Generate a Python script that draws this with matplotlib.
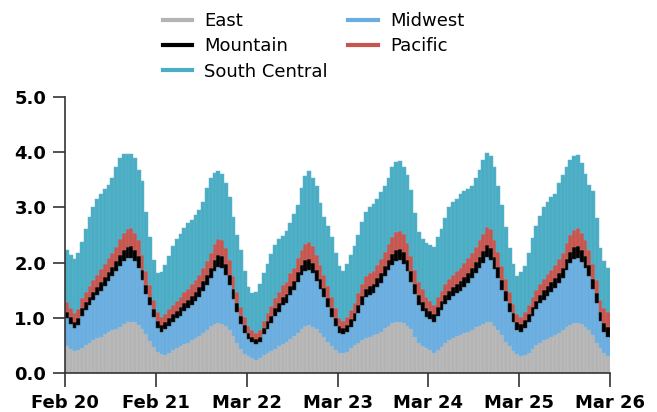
import numpy as np
import matplotlib
matplotlib.use("Agg")
import matplotlib.pyplot as plt
from matplotlib.lines import Line2D

# tick labels, one per day boundary
day_labels = ["Feb 20", "Feb 21", "Mar 22", "Mar 23", "Mar 24", "Mar 25", "Mar 26"]
hours_per_day = 24

# hourly values, one row per day
east = [
    0.48, 0.44, 0.39, 0.41, 0.45, 0.50, 0.55, 0.59, 0.63, 0.66, 0.70, 0.74, 0.77, 0.80, 0.84, 0.88, 0.92, 0.93, 0.92, 0.87, 0.80, 0.70, 0.58, 0.47,
    0.38, 0.34, 0.33, 0.37, 0.41, 0.45, 0.49, 0.52, 0.55, 0.59, 0.63, 0.67, 0.72, 0.78, 0.85, 0.89, 0.90, 0.89, 0.85, 0.78, 0.67, 0.55, 0.43, 0.35,
    0.31, 0.27, 0.24, 0.28, 0.32, 0.36, 0.40, 0.44, 0.48, 0.52, 0.56, 0.61, 0.67, 0.73, 0.79, 0.85, 0.87, 0.84, 0.79, 0.73, 0.65, 0.57, 0.49, 0.42,
    0.37, 0.36, 0.38, 0.45, 0.50, 0.55, 0.60, 0.63, 0.66, 0.68, 0.71, 0.74, 0.82, 0.86, 0.90, 0.93, 0.93, 0.91, 0.85, 0.79, 0.66, 0.55, 0.49, 0.45,
    0.41, 0.37, 0.42, 0.47, 0.55, 0.60, 0.64, 0.67, 0.69, 0.72, 0.74, 0.78, 0.83, 0.86, 0.89, 0.93, 0.92, 0.86, 0.78, 0.68, 0.57, 0.48, 0.40, 0.35,
    0.30, 0.32, 0.37, 0.44, 0.51, 0.55, 0.59, 0.62, 0.65, 0.68, 0.72, 0.77, 0.83, 0.87, 0.90, 0.91, 0.88, 0.84, 0.78, 0.68, 0.55, 0.45, 0.37, 0.30,
]

midwest = [
    0.51, 0.45, 0.42, 0.46, 0.59, 0.64, 0.69, 0.73, 0.78, 0.83, 0.87, 0.92, 0.98, 1.04, 1.10, 1.15, 1.16, 1.15, 1.10, 1.04, 0.88, 0.73, 0.65, 0.54,
    0.44, 0.40, 0.46, 0.49, 0.51, 0.54, 0.55, 0.60, 0.63, 0.65, 0.67, 0.71, 0.77, 0.81, 0.87, 0.96, 1.02, 1.01, 0.93, 0.81, 0.67, 0.56, 0.45, 0.38,
    0.31, 0.29, 0.28, 0.28, 0.38, 0.44, 0.50, 0.59, 0.63, 0.71, 0.71, 0.81, 0.83, 0.92, 0.98, 1.00, 1.00, 0.97, 0.88, 0.79, 0.72, 0.63, 0.53, 0.44,
    0.36, 0.34, 0.36, 0.38, 0.44, 0.54, 0.64, 0.74, 0.76, 0.77, 0.84, 0.89, 0.93, 1.00, 1.06, 1.09, 1.11, 1.07, 1.00, 0.86, 0.77, 0.69, 0.64, 0.56,
    0.57, 0.55, 0.62, 0.67, 0.70, 0.72, 0.75, 0.77, 0.80, 0.84, 0.89, 0.94, 0.98, 1.04, 1.11, 1.17, 1.13, 1.03, 0.94, 0.82, 0.74, 0.62, 0.52, 0.42,
    0.44, 0.50, 0.55, 0.60, 0.64, 0.71, 0.74, 0.78, 0.82, 0.86, 0.91, 0.95, 1.04, 1.13, 1.17, 1.17, 1.13, 1.06, 0.97, 0.84, 0.71, 0.49, 0.37, 0.36,
]

mountain = [
    0.12, 0.12, 0.12, 0.12, 0.13, 0.14, 0.14, 0.15, 0.15, 0.16, 0.16, 0.17, 0.17, 0.18, 0.19, 0.20, 0.21, 0.22, 0.21, 0.20, 0.19, 0.17, 0.15, 0.14,
    0.13, 0.13, 0.13, 0.13, 0.14, 0.14, 0.15, 0.15, 0.15, 0.16, 0.16, 0.17, 0.17, 0.18, 0.19, 0.20, 0.21, 0.21, 0.20, 0.19, 0.18, 0.16, 0.15, 0.14,
    0.11, 0.10, 0.10, 0.10, 0.12, 0.14, 0.14, 0.15, 0.15, 0.15, 0.16, 0.16, 0.17, 0.18, 0.18, 0.19, 0.20, 0.19, 0.19, 0.18, 0.17, 0.16, 0.15, 0.14,
    0.13, 0.12, 0.13, 0.14, 0.14, 0.15, 0.16, 0.16, 0.16, 0.17, 0.17, 0.18, 0.18, 0.19, 0.20, 0.21, 0.21, 0.21, 0.20, 0.19, 0.18, 0.17, 0.16, 0.16,
    0.15, 0.15, 0.15, 0.16, 0.16, 0.17, 0.17, 0.18, 0.18, 0.18, 0.19, 0.19, 0.20, 0.20, 0.21, 0.22, 0.22, 0.21, 0.20, 0.19, 0.18, 0.17, 0.16, 0.15,
    0.14, 0.14, 0.15, 0.15, 0.16, 0.16, 0.17, 0.17, 0.17, 0.18, 0.18, 0.19, 0.20, 0.20, 0.21, 0.22, 0.21, 0.21, 0.20, 0.19, 0.18, 0.17, 0.17, 0.17,
]

pacific = [
    0.18, 0.16, 0.15, 0.16, 0.18, 0.19, 0.20, 0.21, 0.22, 0.23, 0.24, 0.25, 0.26, 0.27, 0.29, 0.30, 0.32, 0.32, 0.31, 0.30, 0.27, 0.24, 0.21, 0.18,
    0.16, 0.15, 0.15, 0.16, 0.17, 0.18, 0.19, 0.19, 0.20, 0.21, 0.22, 0.23, 0.24, 0.25, 0.27, 0.29, 0.30, 0.30, 0.28, 0.26, 0.23, 0.20, 0.17, 0.15,
    0.13, 0.11, 0.10, 0.11, 0.13, 0.15, 0.17, 0.18, 0.20, 0.21, 0.22, 0.23, 0.24, 0.26, 0.28, 0.30, 0.31, 0.30, 0.28, 0.26, 0.24, 0.22, 0.20, 0.17,
    0.14, 0.12, 0.15, 0.17, 0.18, 0.20, 0.21, 0.22, 0.23, 0.23, 0.24, 0.25, 0.27, 0.29, 0.31, 0.32, 0.33, 0.32, 0.30, 0.28, 0.26, 0.24, 0.23, 0.21,
    0.18, 0.17, 0.18, 0.19, 0.20, 0.21, 0.22, 0.23, 0.24, 0.25, 0.26, 0.27, 0.28, 0.30, 0.31, 0.33, 0.33, 0.31, 0.28, 0.25, 0.22, 0.20, 0.17, 0.15,
    0.14, 0.15, 0.16, 0.18, 0.19, 0.20, 0.21, 0.22, 0.23, 0.24, 0.25, 0.26, 0.28, 0.30, 0.31, 0.32, 0.31, 0.30, 0.28, 0.26, 0.24, 0.22, 0.26, 0.28,
]

south_central = [
    0.94, 0.97, 0.98, 1.02, 1.03, 1.13, 1.24, 1.33, 1.38, 1.36, 1.36, 1.33, 1.36, 1.44, 1.47, 1.43, 1.35, 1.35, 1.36, 1.27, 1.33, 1.08, 0.88, 0.72,
    0.71, 0.81, 0.89, 0.97, 1.07, 1.11, 1.14, 1.17, 1.18, 1.17, 1.18, 1.17, 1.20, 1.33, 1.35, 1.29, 1.22, 1.19, 1.18, 1.15, 1.08, 1.03, 1.03, 0.82,
    0.70, 0.67, 0.74, 0.84, 0.86, 0.88, 0.95, 0.96, 0.96, 0.89, 0.92, 0.90, 0.97, 0.95, 1.12, 1.22, 1.27, 1.24, 1.24, 1.11, 1.05, 1.08, 1.10, 1.00,
    0.93, 0.91, 0.95, 1.00, 1.04, 1.06, 1.13, 1.17, 1.20, 1.21, 1.19, 1.21, 1.18, 1.19, 1.26, 1.28, 1.26, 1.22, 1.24, 1.20, 1.03, 0.91, 0.90, 0.98,
    1.01, 1.04, 1.09, 1.11, 1.19, 1.30, 1.32, 1.30, 1.33, 1.31, 1.26, 1.21, 1.24, 1.28, 1.33, 1.33, 1.33, 1.32, 1.18, 1.10, 0.94, 0.79, 0.72, 0.69,
    0.81, 0.83, 0.94, 1.07, 1.16, 1.22, 1.30, 1.31, 1.31, 1.28, 1.38, 1.42, 1.39, 1.36, 1.34, 1.33, 1.28, 1.20, 1.18, 1.32, 1.12, 0.93, 0.85, 0.79,
]

# bottom-to-top stacking order: name, values, fill, stripe
series = [
    ("East", east, "#b4b4b4", "#c4c4c4"),
    ("Midwest", midwest, "#6aade0", "#7db9e4"),
    ("Mountain", mountain, "#000000", "#2e2e2e"),
    ("Pacific", pacific, "#c65550", "#d06b66"),
    ("South Central", south_central, "#4aadc4", "#62b8cd"),
]
legend_order = ["East", "Mountain", "South Central", "Midwest", "Pacific"]


def main():
    plt.rcParams["font.family"] = "DejaVu Sans"
    fig = plt.figure(figsize=(6.57, 4.12), dpi=100)
    ax = fig.add_axes([0.0989, 0.0947, 0.8296, 0.670])

    n = len(east)
    x = np.arange(n) + 0.5
    bottom = np.zeros(n)
    colors = {}
    for name, vals, color, edge in series:
        vals = np.asarray(vals)
        ax.bar(x, vals, width=1.0, bottom=bottom, color=color,
               edgecolor=edge, linewidth=0.35)
        bottom = bottom + vals
        colors[name] = color

    ax.set_xlim(0, n)
    ax.set_ylim(0, 5)
    ax.set_xticks(np.arange(0, n + 1, hours_per_day))
    ax.set_xticklabels(day_labels)
    yt = np.arange(0, 5.01, 1.0)
    ax.set_yticks(yt)
    ax.set_yticklabels([f"{v:.1f}" for v in yt])

    for side in ["top", "right"]:
        ax.spines[side].set_visible(False)
    for side in ["left", "bottom"]:
        ax.spines[side].set_color("#333333")
        ax.spines[side].set_linewidth(1.2)

    ax.tick_params(axis="x", length=10, width=1.2, color="#333333", pad=5,
                   labelsize=13)
    ax.tick_params(axis="y", length=8.5, width=1.2, color="#333333", pad=5,
                   labelsize=13)
    for lbl in ax.get_xticklabels() + ax.get_yticklabels():
        lbl.set_fontweight("bold")

    handles = [Line2D([], [], color=colors[nm], lw=3) for nm in legend_order]
    fig.legend(handles, legend_order, loc="upper center", ncol=2,
               bbox_to_anchor=(0.477, 1.01), frameon=False, fontsize=13,
               handlelength=1.65, handletextpad=0.65, columnspacing=1.15,
               labelspacing=0.40)

    fig.savefig("out.png", dpi=100)


if __name__ == "__main__":
    main()
